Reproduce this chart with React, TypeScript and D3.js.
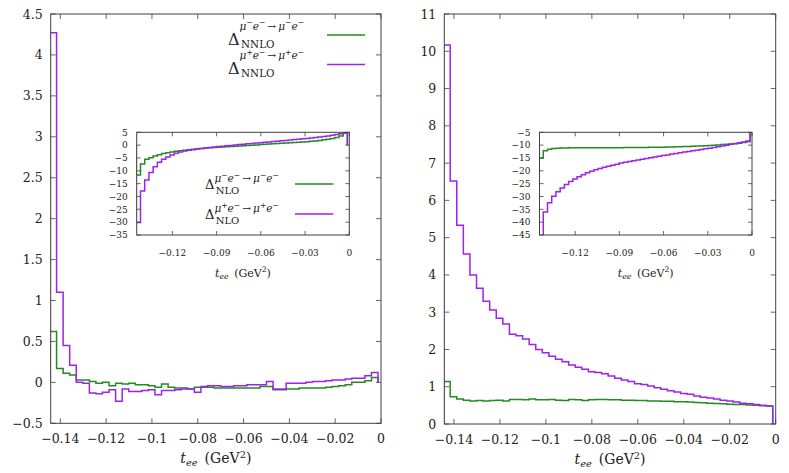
import * as d3 from 'd3'
import { useEffect, useRef } from 'react'

// histogram binning in t_ee (GeV^2)
const N_BINS = 50
const T_LO = -0.1445
const T_HI = -0.0013
const T_DOMAIN: [number, number] = [-0.1442, 0]

// left panel, main: Delta_NNLO
const leftMainMinus = [0.62, 0.17, 0.11, 0.09, 0.03, 0.03, 0.01, -0.01, 0.0, -0.04, -0.01, -0.02, -0.01, -0.03, -0.03, -0.04, -0.06, -0.02, -0.06, -0.07, -0.07, -0.08, -0.06, -0.06, -0.06, -0.07, -0.07, -0.07, -0.07, -0.07, -0.07, -0.07, -0.05, -0.05, -0.09, -0.09, -0.08, -0.08, -0.07, -0.07, -0.07, -0.07, -0.06, -0.05, -0.04, -0.03, 0.0, 0.0, 0.02, 0.06]
const leftMainPlus = [4.27, 1.1, 0.45, 0.21, 0.0, -0.01, -0.13, -0.14, -0.12, -0.09, -0.23, -0.08, -0.11, -0.11, -0.1, -0.09, -0.15, -0.1, -0.1, -0.09, -0.08, -0.08, -0.12, -0.05, -0.04, -0.04, -0.05, -0.05, -0.04, -0.04, -0.03, -0.03, -0.03, 0.01, -0.08, -0.08, -0.01, -0.01, -0.01, 0.0, 0.01, 0.01, 0.02, 0.03, 0.03, 0.04, 0.05, 0.05, 0.08, 0.12]

// left panel, inset: Delta_NLO
const leftInsetMinus = [-11.6, -7.3, -5.5, -4.9, -4.2, -3.7, -3.3, -3.0, -2.7, -2.4, -2.2, -2.0, -1.8, -1.6, -1.45, -1.3, -1.15, -1.0, -0.9, -0.8, -0.7, -0.6, -0.5, -0.4, -0.3, -0.2, -0.1, 0.0, 0.1, 0.2, 0.3, 0.4, 0.5, 0.6, 0.7, 0.8, 0.9, 1.0, 1.1, 1.2, 1.35, 1.5, 1.65, 1.85, 2.05, 2.3, 2.6, 3.0, 3.6, 4.6]
const leftInsetPlus = [-30.1, -17.9, -13.6, -10.7, -8.4, -6.7, -5.5, -4.6, -3.8, -3.2, -2.7, -2.3, -2.0, -1.8, -1.55, -1.35, -1.15, -0.95, -0.75, -0.55, -0.4, -0.25, -0.1, 0.05, 0.2, 0.35, 0.5, 0.65, 0.8, 0.95, 1.1, 1.25, 1.4, 1.55, 1.7, 1.85, 2.0, 2.15, 2.3, 2.45, 2.6, 2.8, 3.0, 3.2, 3.4, 3.6, 3.85, 4.1, 4.4, 4.8]

// right panel, main
const rightMainMinus = [1.14, 0.73, 0.67, 0.64, 0.62, 0.63, 0.62, 0.63, 0.64, 0.62, 0.66, 0.66, 0.65, 0.67, 0.65, 0.65, 0.66, 0.64, 0.63, 0.66, 0.65, 0.63, 0.65, 0.66, 0.66, 0.65, 0.65, 0.64, 0.64, 0.63, 0.63, 0.62, 0.62, 0.61, 0.61, 0.6, 0.6, 0.59, 0.58, 0.57, 0.56, 0.55, 0.54, 0.53, 0.52, 0.52, 0.51, 0.5, 0.49, 0.48]
const rightMainPlus = [10.17, 6.52, 5.33, 4.56, 4.0, 3.64, 3.29, 3.06, 2.84, 2.68, 2.41, 2.37, 2.28, 2.13, 2.0, 1.91, 1.82, 1.74, 1.67, 1.58, 1.52, 1.47, 1.4, 1.38, 1.35, 1.29, 1.23, 1.18, 1.14, 1.08, 1.06, 1.02, 0.97, 0.93, 0.89, 0.86, 0.82, 0.8, 0.75, 0.72, 0.7, 0.67, 0.64, 0.62, 0.59, 0.56, 0.54, 0.52, 0.5, 0.48]

// right panel, inset
const rightInsetMinus = [-15.0, -12.2, -11.6, -11.3, -11.2, -11.1, -11.1, -11.0, -11.0, -11.0, -11.0, -11.0, -11.0, -11.0, -11.0, -11.0, -11.0, -11.0, -11.0, -11.0, -10.9, -10.9, -10.9, -10.9, -10.9, -10.9, -10.8, -10.8, -10.8, -10.8, -10.7, -10.7, -10.6, -10.6, -10.5, -10.5, -10.4, -10.3, -10.3, -10.2, -10.1, -10.0, -9.9, -9.8, -9.7, -9.6, -9.5, -9.3, -9.0, -8.7]
const rightInsetPlus = [-48, -36.0, -32.4, -29.9, -28.2, -26.7, -25.3, -24.2, -23.2, -22.3, -21.5, -20.8, -20.2, -19.6, -19.1, -18.6, -18.2, -17.8, -17.4, -17.0, -16.7, -16.4, -16.1, -15.8, -15.5, -15.2, -14.9, -14.6, -14.3, -14.0, -13.8, -13.5, -13.3, -13.0, -12.7, -12.5, -12.2, -12.0, -11.7, -11.4, -11.2, -10.9, -10.6, -10.3, -10.0, -9.7, -9.4, -9.1, -8.8, -8.4]

// ticks
const mainXTicks = [-0.14, -0.12, -0.1, -0.08, -0.06, -0.04, -0.02, 0]
const insetXTicks = [-0.12, -0.09, -0.06, -0.03, 0]
const leftMainYTicks = [-0.5, 0, 0.5, 1, 1.5, 2, 2.5, 3, 3.5, 4, 4.5]
const rightMainYTicks = [0, 1, 2, 3, 4, 5, 6, 7, 8, 9, 10, 11]
const leftInsetYTicks = [-35, -30, -25, -20, -15, -10, -5, 0, 5]
const rightInsetYTicks = [-45, -40, -35, -30, -25, -20, -15, -10, -5]

const GREEN = '#228b22'
const PURPLE = '#a020f0'
const FRAME = '#404040'
const FONT = 'DejaVu Serif, Liberation Serif, serif'

type G = d3.Selection<SVGGElement, unknown, null, undefined>
type T = d3.Selection<SVGTextElement, unknown, null, undefined>

type Panel = {
  id: string
  left: number
  right: number
  top: number
  bottom: number
  yDomain: [number, number]
  xTicks: number[]
  yTicks: number[]
  minus: number[]
  plus: number[]
  tickLen: number
  fontSize: number
  yLabelGap: number
  xLabelGap: number
  axisGap: number
  axisFont: number
  inset: boolean
}

const fmt = (v: number) => (v < 0 ? '\u2212' : '') + String(Math.abs(v))

function axisLabel(g: G, x: number, y: number, fs: number) {
  const t = g
    .append('text')
    .attr('x', x)
    .attr('y', y)
    .attr('text-anchor', 'middle')
    .attr('font-size', fs)
  t.append('tspan').attr('font-style', 'italic').text('t')
  t.append('tspan')
    .attr('font-style', 'italic')
    .attr('font-size', fs * 0.7)
    .attr('dy', fs * 0.22)
    .text('ee')
  t.append('tspan').attr('dy', -fs * 0.22).text('\u2002(GeV')
  t.append('tspan')
    .attr('font-size', fs * 0.7)
    .attr('dy', -fs * 0.38)
    .text('2')
  t.append('tspan').attr('dy', fs * 0.38).text(')')
}

// superscript "mu e -> mu e" written into an existing text element,
// starting dy0 above the current baseline
function process(t: T, fs: number, sign: string, dy0: number) {
  const parts: [string, boolean][] = [
    ['\u03bc', false], [sign, true], ['e', false], ['\u2212', true],
    ['\u2009\u2192\u2009', false],
    ['\u03bc', false], [sign, true], ['e', false], ['\u2212', true]
  ]
  const rise = fs * 0.4
  let raised = false
  parts.forEach(([s, sup], i) => {
    const sp = t.append('tspan').text(s)
    let dy = i === 0 ? dy0 : 0
    if (sup) {
      sp.attr('font-size', fs * 0.72).attr('font-style', 'normal')
      if (!raised) dy -= rise
      raised = true
    } else {
      sp.attr('font-size', fs).attr('font-style', 'italic')
      if (raised) dy += rise
      raised = false
    }
    if (dy !== 0) sp.attr('dy', dy)
  })
  return raised ? rise : 0
}

function drawPanel(svg: d3.Selection<SVGSVGElement, unknown, null, undefined>, p: Panel) {
  const g = svg.append('g')
  const x = d3.scaleLinear().domain(T_DOMAIN).range([p.left, p.right])
  const y = d3.scaleLinear().domain(p.yDomain).range([p.bottom, p.top])

  if (p.inset) {
    g.append('rect')
      .attr('x', p.left)
      .attr('y', p.top)
      .attr('width', p.right - p.left)
      .attr('height', p.bottom - p.top)
      .attr('fill', '#fff')
  }

  g.append('clipPath')
    .attr('id', p.id)
    .append('rect')
    .attr('x', p.left)
    .attr('y', p.top)
    .attr('width', p.right - p.left)
    .attr('height', p.bottom - p.top)

  const edges = d3.range(N_BINS + 1).map(i => T_LO + (i * (T_HI - T_LO)) / N_BINS)
  const line = d3
    .line<[number, number]>()
    .x(d => x(d[0]))
    .y(d => y(d[1]))
    .curve(d3.curveStepAfter)

  const steps = (vals: number[]): [number, number][] => [
    [edges[0], 0],
    ...vals.map((v, i) => [edges[i], v] as [number, number]),
    [edges[N_BINS], vals[vals.length - 1]],
    [edges[N_BINS], 0]
  ]

  const data = g.append('g').attr('clip-path', `url(#${p.id})`)
  ;[
    { vals: p.minus, color: GREEN },
    { vals: p.plus, color: PURPLE }
  ].forEach(s => {
    data
      .append('path')
      .datum(steps(s.vals))
      .attr('fill', 'none')
      .attr('stroke', s.color)
      .attr('stroke-width', 1.5)
      .attr('d', line)
  })

  // ticks, mirrored on all sides
  const tk = g.append('g').attr('stroke', FRAME).attr('stroke-width', 0.8)
  p.xTicks.forEach(t => {
    const xx = x(t)
    tk.append('line').attr('x1', xx).attr('x2', xx).attr('y1', p.bottom).attr('y2', p.bottom - p.tickLen)
    tk.append('line').attr('x1', xx).attr('x2', xx).attr('y1', p.top).attr('y2', p.top + p.tickLen)
  })
  p.yTicks.forEach(t => {
    const yy = y(t)
    tk.append('line').attr('x1', p.left).attr('x2', p.left + p.tickLen).attr('y1', yy).attr('y2', yy)
    tk.append('line').attr('x1', p.right).attr('x2', p.right - p.tickLen).attr('y1', yy).attr('y2', yy)
  })

  g.append('rect')
    .attr('x', p.left)
    .attr('y', p.top)
    .attr('width', p.right - p.left)
    .attr('height', p.bottom - p.top)
    .attr('fill', 'none')
    .attr('stroke', FRAME)
    .attr('stroke-width', 1)

  const labels = g.append('g').attr('font-size', p.fontSize).attr('fill', '#222')
  p.xTicks.forEach(t => {
    labels
      .append('text')
      .attr('x', x(t))
      .attr('y', p.bottom + p.xLabelGap)
      .attr('text-anchor', 'middle')
      .text(fmt(t))
  })
  p.yTicks.forEach(t => {
    labels
      .append('text')
      .attr('x', p.left - p.yLabelGap)
      .attr('y', y(t) + p.fontSize * 0.36)
      .attr('text-anchor', 'end')
      .text(fmt(t))
  })

  axisLabel(labels, (p.left + p.right) / 2, p.bottom + p.axisGap, p.axisFont)
}

type Entry = {
  x: number
  lineY: number
  deltaFs: number
  supFs: number
  subFs: number
  dDelta: number
  dSup: number
  dSub: number
  sub: string
  sign: string
  color: string
  x1: number
  x2: number
}

function legendEntry(g: G, o: Entry) {
  const base = o.lineY + o.dDelta
  const sx = o.x + o.deltaFs * 0.82
  const t = g.append('text').attr('x', o.x).attr('y', base)
  t.append('tspan').attr('font-size', o.deltaFs).text('\u0394')
  const left = process(t, o.supFs, o.sign, o.dSup - o.dDelta)
  t.append('tspan')
    .attr('x', sx)
    .attr('dy', o.dSub - o.dSup + left)
    .attr('font-size', o.subFs)
    .attr('font-style', 'normal')
    .text(o.sub)
  g.append('line')
    .attr('x1', o.x1)
    .attr('x2', o.x2)
    .attr('y1', o.lineY)
    .attr('y2', o.lineY)
    .attr('stroke', o.color)
    .attr('stroke-width', 1.5)
}

export default function App() {
  const svgRef = useRef<SVGSVGElement | null>(null)

  useEffect(() => {
    if (!svgRef.current) return
    const svg = d3.select(svgRef.current)
    svg.selectAll('*').remove()
    svg.attr('font-family', FONT)

    const main = { tickLen: 5, fontSize: 12.5, yLabelGap: 8, xLabelGap: 20, axisGap: 40, axisFont: 14, inset: false }
    const inset = { tickLen: 4, fontSize: 9, yLabelGap: 9, xLabelGap: 20.5, axisGap: 41.5, axisFont: 11, inset: true }

    drawPanel(svg, {
      ...main, id: 'clip-lm', left: 50.7, right: 381, top: 14, bottom: 423.3,
      yDomain: [-0.5, 4.5], xTicks: mainXTicks, yTicks: leftMainYTicks,
      minus: leftMainMinus, plus: leftMainPlus
    })
    drawPanel(svg, {
      ...main, id: 'clip-rm', left: 444.3, right: 775.7, top: 14, bottom: 424,
      yDomain: [0, 11], xTicks: mainXTicks, yTicks: rightMainYTicks,
      minus: rightMainMinus, plus: rightMainPlus
    })
    drawPanel(svg, {
      ...inset, id: 'clip-li', left: 136.7, right: 349.3, top: 132.3, bottom: 235,
      yDomain: [-35, 5], xTicks: insetXTicks, yTicks: leftInsetYTicks,
      minus: leftInsetMinus, plus: leftInsetPlus
    })
    drawPanel(svg, {
      ...inset, id: 'clip-ri', left: 539.5, right: 752, top: 132.3, bottom: 235,
      yDomain: [-45, -5], xTicks: insetXTicks, yTicks: rightInsetYTicks,
      minus: rightInsetMinus, plus: rightInsetPlus
    })

    const lg = svg.append('g').attr('fill', '#222')
    const mainLeg = { x: 228, deltaFs: 16, supFs: 10.5, subFs: 10.3, dDelta: 9.5, dSup: -5.5, dSub: 12.5, sub: 'NNLO', x1: 327, x2: 365 }
    legendEntry(lg, { ...mainLeg, lineY: 35, sign: '\u2212', color: GREEN })
    legendEntry(lg, { ...mainLeg, lineY: 64.5, sign: '+', color: PURPLE })
    const insetLeg = { x: 205, deltaFs: 13, supFs: 10.5, subFs: 10, dDelta: 5.3, dSup: -1.7, dSub: 10.3, sub: 'NLO', x1: 295, x2: 333.3 }
    legendEntry(lg, { ...insetLeg, lineY: 184, sign: '\u2212', color: GREEN })
    legendEntry(lg, { ...insetLeg, lineY: 214, sign: '+', color: PURPLE })
  }, [])

  return (
    <div style={{ position: 'absolute', left: 0, top: 0 }}>
      <svg ref={svgRef} width={789} height={473} style={{ display: 'block', background: '#fff' }} />
    </div>
  )
}
